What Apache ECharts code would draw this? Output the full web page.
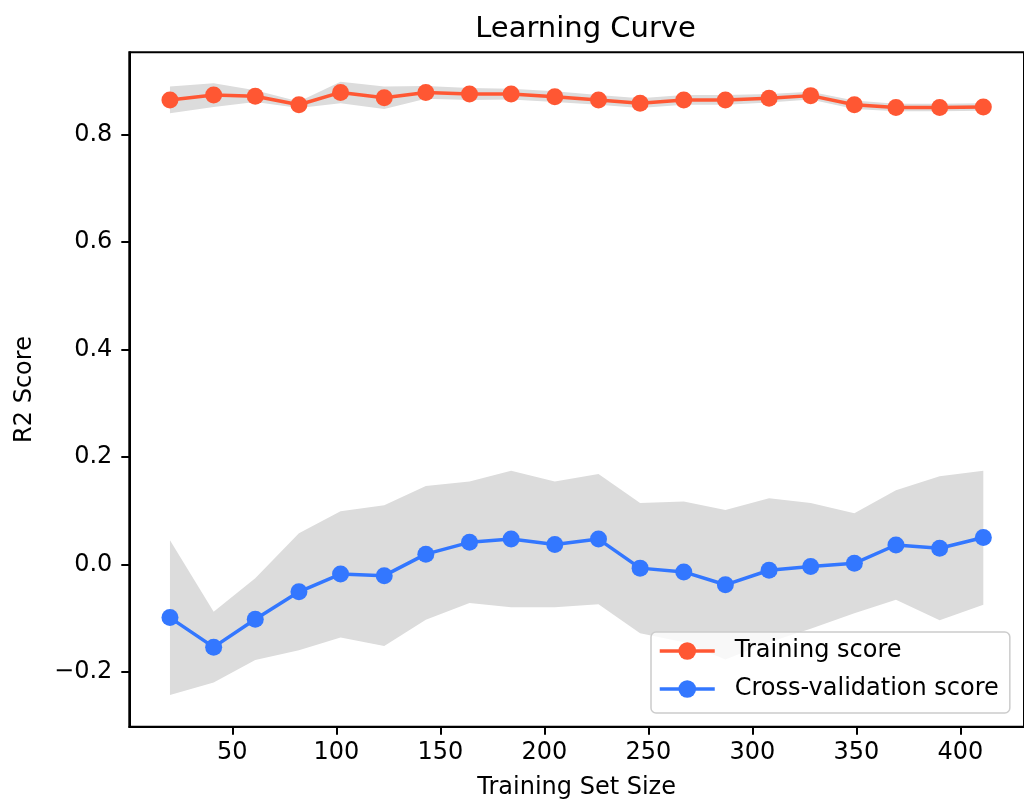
<!DOCTYPE html>
<html><head><meta charset="utf-8">
<script src="https://cdn.jsdelivr.net/npm/echarts@6/dist/echarts.min.js"></script>
<style>html,body{margin:0;padding:0;background:#fff}#c{width:1024px;height:808px}</style>
</head><body><div id="c"></div>
<script>
const trainSizes = [20,41,61,82,102,123,143,164,184,205,226,246,267,287,308,328,349,369,390,411];
const trainMean  = [0.864,0.873,0.871,0.855,0.878,0.868,0.878,0.875,0.875,0.870,0.864,0.858,0.864,0.864,0.867,0.872,0.855,0.850,0.850,0.851];
const trainUpper = [0.889,0.895,0.882,0.861,0.898,0.889,0.890,0.886,0.885,0.880,0.873,0.867,0.873,0.873,0.875,0.879,0.863,0.857,0.857,0.858];
const trainLower = [0.839,0.851,0.860,0.849,0.858,0.847,0.866,0.864,0.865,0.860,0.855,0.849,0.855,0.855,0.859,0.865,0.847,0.843,0.843,0.844];
const cvMean  = [-0.099,-0.154,-0.102,-0.051,-0.018,-0.021,0.019,0.041,0.047,0.037,0.047,-0.007,-0.014,-0.038,-0.011,-0.004,0.002,0.036,0.030,0.050];
const cvUpper = [0.045,-0.088,-0.026,0.058,0.099,0.110,0.146,0.154,0.174,0.154,0.168,0.114,0.117,0.101,0.123,0.114,0.095,0.138,0.164,0.174];
const cvLower = [-0.243,-0.220,-0.178,-0.160,-0.136,-0.152,-0.103,-0.072,-0.080,-0.080,-0.074,-0.128,-0.145,-0.177,-0.145,-0.120,-0.091,-0.066,-0.104,-0.075];
const xTicks = [50,100,150,200,250,300,350,400];
const yTicks = [-0.2,0.0,0.2,0.4,0.6,0.8];

const FONT = 'DejaVu Sans';
const ORANGE = '#ff5733', BLUE = '#3377ff', BAND = '#dcdcdc';

function pairs(ys){ return trainSizes.map((x,i)=>[x,ys[i]]); }

function bandSeries(name, lower, upper){
  const data = trainSizes.map((x,i)=>[x, lower[i], upper[i]]);
  return {
    name:name, type:'custom', silent:true, z:1, animation:false,
    encode:{x:0, y:[1,2]},
    data:data,
    renderItem:function(params, api){
      if (params.dataIndex !== 0) return null;
      const top = [], bot = [];
      for (let i = 0; i < data.length; i++) {
        top.push(api.coord([data[i][0], data[i][2]]));
        bot.push(api.coord([data[i][0], data[i][1]]));
      }
      const pts = top.concat(bot.reverse());
      return {type:'polygon', shape:{points:pts}, style:{fill:BAND, stroke:null}};
    }
  };
}

const chart = echarts.init(document.getElementById('c'), null, {renderer:'canvas'});
chart.setOption({
  animation:false,
  backgroundColor:'#fff',
  textStyle:{fontFamily:FONT},
  title:{text:'Learning Curve', left:580.5, top:10, textAlign:'center',
    textStyle:{fontFamily:FONT, fontSize:29, fontWeight:'normal', color:'#000'}},
  grid:{left:129.3, right:-8, top:52.3, bottom:81.3, show:true, borderColor:'#000', borderWidth:2, backgroundColor:'transparent'},
  xAxis:{type:'value', min:0.45, max:430.55,
    name:'Training Set Size', nameLocation:'middle', nameGap:49,
    nameTextStyle:{fontFamily:FONT, fontSize:24, color:'#000'},
    axisLine:{show:true, onZero:false, lineStyle:{color:'#000', width:2}},
    axisTick:{show:true, length:8, lineStyle:{color:'#000', width:2}, customValues:xTicks},
    axisLabel:{show:true, margin:14, fontFamily:FONT, fontSize:24, color:'#000', customValues:xTicks},
    splitLine:{show:false}},
  yAxis:{type:'value', min:-0.302, max:0.9526,
    name:'R2 Score', nameLocation:'middle', nameGap:93,
    nameTextStyle:{fontFamily:FONT, fontSize:24, color:'#000'},
    axisLine:{show:true, onZero:false, lineStyle:{color:'#000', width:2}},
    axisTick:{show:true, length:8, lineStyle:{color:'#000', width:2}, customValues:yTicks},
    axisLabel:{show:true, margin:17, fontFamily:FONT, fontSize:24, color:'#000', customValues:yTicks,
      formatter:v=>v.toFixed(1).replace('-','\u2212')},
    splitLine:{show:false}},
  legend:{data:['Training score','Cross-validation score'], orient:'vertical', left:651, top:632,
    padding:[7,11,12,7], itemGap:14, itemWidth:55, itemHeight:22,
    lineStyle:{width:3.5},
    backgroundColor:'rgba(255,255,255,0.8)', borderColor:'#cccccc', borderWidth:1.5, borderRadius:5,
    textStyle:{fontFamily:FONT, fontSize:24, color:'#000', lineHeight:24, padding:[0,0,0,15]}},
  series:[
    bandSeries('trainBand', trainLower, trainUpper),
    bandSeries('cvBand', cvLower, cvUpper),
    {name:'Training score', type:'line', data:pairs(trainMean), symbol:'circle', symbolSize:17,
     itemStyle:{color:ORANGE}, lineStyle:{color:ORANGE, width:3.5}, z:5},
    {name:'Cross-validation score', type:'line', data:pairs(cvMean), symbol:'circle', symbolSize:17,
     itemStyle:{color:BLUE}, lineStyle:{color:BLUE, width:3.5}, z:5}
  ]
});
</script></body></html>
